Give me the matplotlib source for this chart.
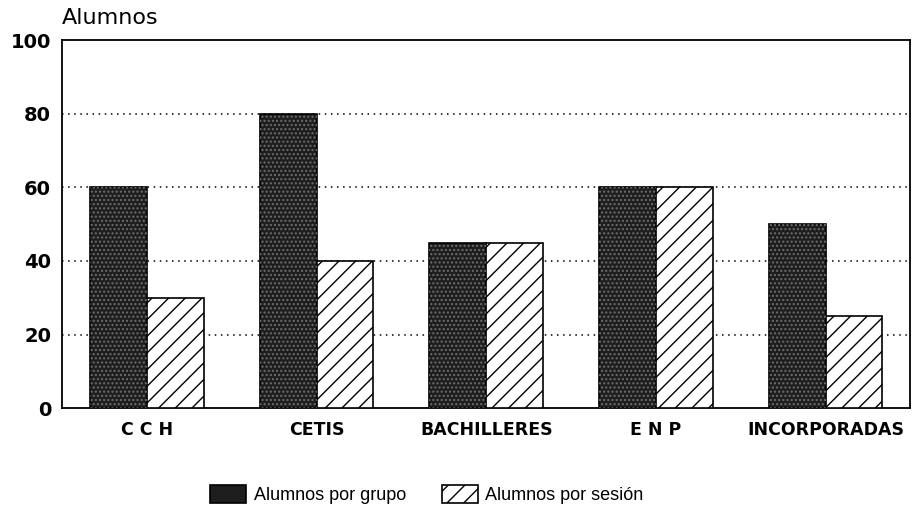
import matplotlib.pyplot as plt
import numpy as np

categorias = ["C C H", "CETIS", "BACHILLERES", "E N P", "INCORPORADAS"]
por_grupo = [60, 80, 45, 60, 50]
por_sesion = [30, 40, 45, 60, 25]
yticks = [0, 20, 40, 60, 80, 100]

plt.rcParams['font.family'] = ['Liberation Sans', 'DejaVu Sans']
plt.rcParams['hatch.linewidth'] = 1.0

fig = plt.figure(figsize=(9.14, 5.14), dpi=100)
ax = fig.add_axes([0.068, 0.206, 0.928, 0.716])

x = np.arange(len(categorias))
w = 0.335
b1 = ax.bar(x - w / 2, por_grupo, w, color='#1e1e1e', edgecolor='black',
            linewidth=1.2, label='Alumnos por grupo', zorder=3)
# textura granulada de las barras oscuras
ax.bar(x - w / 2, por_grupo, w, fill=False, edgecolor='#6e6e6e',
       hatch='....', linewidth=0, zorder=3.5)
b2 = ax.bar(x + w / 2, por_sesion, w, color='white', edgecolor='black',
            hatch='//', linewidth=1.2, label='Alumnos por sesión', zorder=3)

ax.set_xlim(-0.5, len(categorias) - 0.5)
ax.set_ylim(0, 100)
ax.set_yticks(yticks)
ax.set_yticklabels([str(v) for v in yticks], fontsize=14, fontweight='bold',
                   family='DejaVu Sans')
ax.set_xticks(x)
ax.set_xticklabels(categorias, fontsize=12.5, fontweight='bold',
                   family='DejaVu Sans')
ax.tick_params(axis='x', length=0, pad=9)
ax.tick_params(axis='y', length=0, pad=8)
for v in yticks[1:-1]:
    ax.axhline(v, color='black', linestyle=(0, (1, 3)), linewidth=1.1, zorder=1)
for s in ax.spines.values():
    s.set_linewidth(1.3)

fig.text(0.068, 0.945, "Alumnos", fontsize=16, ha='left', va='bottom',
         family='DejaVu Sans')

fig.legend(handles=[b1, b2], loc='lower center', bbox_to_anchor=(0.467, -0.012),
           ncol=2, frameon=False, handlelength=2.0,
           handleheight=1.2, columnspacing=2.0, handletextpad=0.4,
           prop={'family': 'Liberation Sans', 'size': 13})

fig.savefig("out.png", dpi=100)
